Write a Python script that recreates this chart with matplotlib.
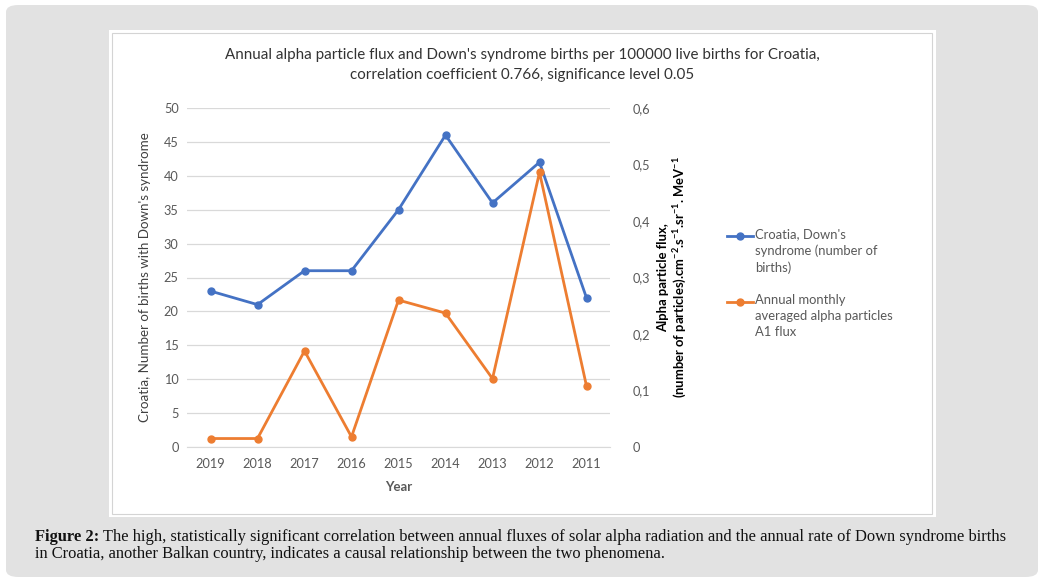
import matplotlib.pyplot as plt
from matplotlib.patches import FancyBboxPatch, Rectangle
from matplotlib.lines import Line2D

plt.rcParams['font.family'] = ['Lato', 'DejaVu Sans']
plt.rcParams['mathtext.fontset'] = 'custom'
plt.rcParams['mathtext.rm'] = 'Lato:bold'
plt.rcParams['mathtext.default'] = 'rm'

# data
years = ['2019', '2018', '2017', '2016', '2015', '2014', '2013', '2012', '2011']
down_births = [23, 21, 26, 26, 35, 46, 36, 42, 22]
alpha_flux = [0.015, 0.015, 0.170, 0.018, 0.260, 0.237, 0.121, 0.486, 0.108]

left_ticks = list(range(0, 55, 5))
right_ticks = [0, 0.1, 0.2, 0.3, 0.4, 0.5, 0.6]
right_tick_labels = ['0', '0,1', '0,2', '0,3', '0,4', '0,5', '0,6']

title = ("Annual alpha particle flux and Down's syndrome births per 100000 live births for Croatia,\n"
         "correlation coefficient 0.766, significance level 0.05")
left_label = "Croatia, Number of births with Down's syndrome"
right_label = ("Alpha particle flux,\n"
               "(number of particles).cm$^{-2}$.s$^{-1}$.sr$^{-1}$. MeV$^{-1}$")
legend_labels = ["Croatia, Down's\nsyndrome (number of\nbirths)",
                 "Annual monthly\naveraged alpha particles\nA1 flux"]
caption_bold = "Figure 2:"
caption_lines = [" The high, statistically significant correlation between annual fluxes of solar alpha "
                 "radiation and the annual rate of Down syndrome births",
                 "in Croatia, another Balkan country, indicates a causal relationship between the two phenomena."]

BLUE = '#4472C4'
ORANGE = '#ED7D31'
GRID = '#d9d9d9'
TICK = '#595959'

W, H = 1043, 583
fig = plt.figure(figsize=(W / 100, H / 100), dpi=100)
fig.patch.set_facecolor('white')


def fx(x):
    return x / W


def fy(y):
    return 1 - y / H


# grey panel, white chart box and its thin border (behind the axes)
fig.patches.append(FancyBboxPatch((fx(6), fy(577)), fx(1032), 572 / H,
                                  boxstyle='round,pad=0,rounding_size=0.012',
                                  transform=fig.transFigure, facecolor='#e2e2e2',
                                  edgecolor='none', zorder=-3))
fig.patches.append(Rectangle((fx(109), fy(517)), fx(827), 487 / H, transform=fig.transFigure,
                             facecolor='white', edgecolor='none', zorder=-2))
fig.patches.append(Rectangle((fx(112), fy(514)), fx(820), 481 / H, transform=fig.transFigure,
                             facecolor='none', edgecolor='#d4d4d4', linewidth=0.8, zorder=-1))

ax = fig.add_axes([fx(187), fy(447), fx(610 - 187), (447 - 108) / H])
ax.set_facecolor('none')
ax2 = ax.twinx()

x = range(len(years))
ax.plot(x, down_births, color=BLUE, linewidth=2.0, marker='o', markersize=5, zorder=3)
ax2.plot(x, alpha_flux, color=ORANGE, linewidth=2.0, marker='o', markersize=5, zorder=3)

ax.set_xlim(-0.5, len(years) - 0.5)
ax.set_ylim(0, 50)
ax2.set_ylim(0, 0.6)
ax.set_yticks(left_ticks)
ax2.set_yticks(right_ticks)
ax2.set_yticklabels(right_tick_labels)
ax.set_xticks(list(x))
ax.set_xticklabels(years)
ax.yaxis.grid(True, color=GRID, linewidth=0.9)
ax.set_axisbelow(True)

for a in (ax, ax2):
    for s in a.spines.values():
        s.set_visible(False)
    a.tick_params(length=0, labelsize=9.2, labelcolor=TICK)
ax.tick_params(axis='y', pad=6)
ax.tick_params(axis='x', pad=8)
ax2.tick_params(axis='y', pad=16)
ax.spines['bottom'].set_visible(True)
ax.spines['bottom'].set_color(GRID)

ax.set_xlabel('Year', fontsize=9.5, fontweight='bold', color=TICK, labelpad=8)
ax.set_ylabel(left_label, fontsize=9.6, color='#404040', labelpad=9)
ax2.set_ylabel(right_label, fontsize=9.4, fontweight='bold', color='black', labelpad=5)

fig.text(fx(522), fy(65), title, ha='center', va='center', fontsize=10.9,
         color='#333333', linespacing=1.5)

# legend drawn by hand so the key sits on the first text line
for i, (lab, col) in enumerate(zip(legend_labels, [BLUE, ORANGE])):
    y0 = 236 + i * 66
    fig.add_artist(Line2D([fx(727), fx(740), fx(753)], [fy(y0)] * 3, color=col, linewidth=2.0,
                          marker='o', markevery=[1], markersize=5, transform=fig.transFigure))
    fig.text(fx(755), fy(y0 - 8), lab, ha='left', va='top', fontsize=9.4, color=TICK,
             linespacing=1.4)

# caption with a bold lead
cap_font = dict(family=['Liberation Serif', 'DejaVu Serif'], fontsize=11.9, color='#111111')
t = fig.text(fx(35), fy(537), caption_bold, ha='left', va='center', fontweight='bold', **cap_font)
fig.canvas.draw()
bb = t.get_window_extent(fig.canvas.get_renderer())
fig.text(bb.x1 / W, fy(537), caption_lines[0], ha='left', va='center', **cap_font)
fig.text(fx(35), fy(554), caption_lines[1], ha='left', va='center', **cap_font)

fig.savefig('out.png', dpi=100)
